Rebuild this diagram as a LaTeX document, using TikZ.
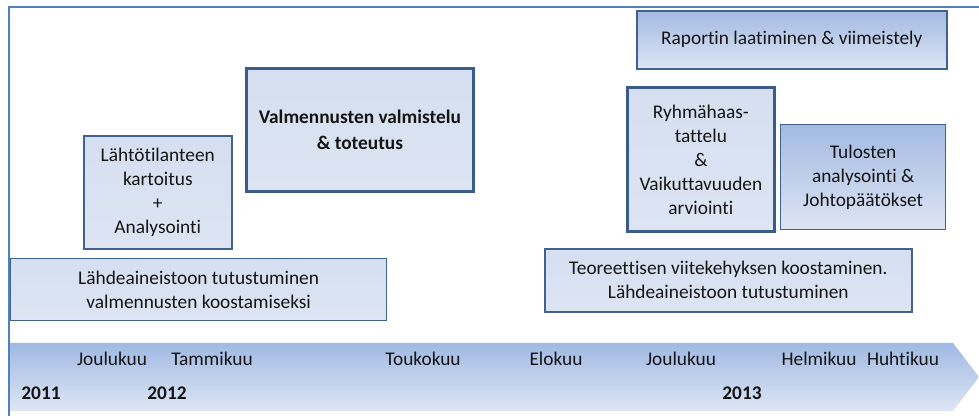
\documentclass[tikz,border=0pt]{standalone}
\usepackage{fontspec}
\setmainfont[RawFeature={-liga}]{Carlito}
\begin{document}
\begin{tikzpicture}[x=0.75pt,y=-0.75pt,
  font=\fontsize{14.5}{18}\selectfont,
  frameline/.style={draw={rgb,255:red,79;green,129;blue,189},line width=1.5pt},
  box/.style={draw={rgb,255:red,66;green,98;blue,142},line width=1.2pt,
    align=center,inner sep=0pt,anchor=north west,text={rgb,255:red,20;green,20;blue,20},
    top color={rgb,255:red,213;green,223;blue,241},
    middle color={rgb,255:red,196;green,211;blue,236},
    bottom color={rgb,255:red,221;green,229;blue,243}},
  darktop/.style={top color={rgb,255:red,163;green,186;blue,227},
    middle color={rgb,255:red,190;green,206;blue,235},
    bottom color={rgb,255:red,221;green,229;blue,243}},
  heavy/.style={line width=2.1pt,draw={rgb,255:red,60;green,92;blue,136}},
  lbl/.style={inner sep=0pt,text={rgb,255:red,20;green,20;blue,20}},
  yr/.style={lbl,font=\fontsize{14.5}{18}\selectfont\bfseries}]
\useasboundingbox (0,0) rectangle (979,416);

% outer frame: top and left edges
\draw[frameline] (979,7.5) -- (8.5,7.5) -- (8.5,416);

% task boxes
\node[box,darktop,minimum width=310*0.75pt,minimum height=58*0.75pt] (rap) at (636,10)
  {Raportin laatiminen \& viimeistely};
\node[box,heavy,minimum width=227*0.75pt,minimum height=123*0.75pt,
  font=\fontsize{14.5}{19.5}\selectfont\bfseries] (val) at (245,67)
  {Valmennusten valmistelu\\\& toteutus};
\node[box,minimum width=148*0.75pt,minimum height=113*0.75pt] (lah) at (83,135)
  {Lähtötilanteen\\kartoitus\\+\\Analysointi};
\node[box,line width=1pt,minimum width=376*0.75pt,minimum height=62*0.75pt] (lde) at (10,258)
  {Lähdeaineistoon tutustuminen\\valmennusten koostamiseksi};
\node[box,heavy,minimum width=147*0.75pt,minimum height=144*0.75pt] (ryh) at (626,86)
  {Ryhmähaas-\\tattelu\\\&\\Vaikuttavuuden\\arviointi};
\node[box,darktop,line width=1pt,minimum width=165*0.75pt,minimum height=105*0.75pt] (tul) at (780,124)
  {Tulosten\\analysointi \&\\Johtopäätökset};
\node[box,minimum width=367*0.75pt,minimum height=63*0.75pt] (teo) at (544,248)
  {Teoreettisen viitekehyksen koostaminen.\\Lähdeaineistoon tutustuminen};

% timeline arrow
\path[top color={rgb,255:red,160;green,185;blue,227},
      bottom color={rgb,255:red,222;green,230;blue,244}]
  (10,343) -- (953,343) -- (979,377) -- (953,411) -- (10,411) -- cycle;

% month labels
\node[lbl] (m1) at (112,359) {Joulukuu};
\node[lbl] (m2) at (212,359) {Tammikuu};
\node[lbl] (m3) at (423,359) {Toukokuu};
\node[lbl] (m4) at (556,359) {Elokuu};
\node[lbl] (m5) at (681,359) {Joulukuu};
\node[lbl] (m6) at (819,359) {Helmikuu};
\node[lbl] (m7) at (903,359) {Huhtikuu};

% year labels
\node[yr] (y1) at (41,393) {2011};
\node[yr] (y2) at (167,393) {2012};
\node[yr] (y3) at (742,393) {2013};
\end{tikzpicture}
\end{document}
